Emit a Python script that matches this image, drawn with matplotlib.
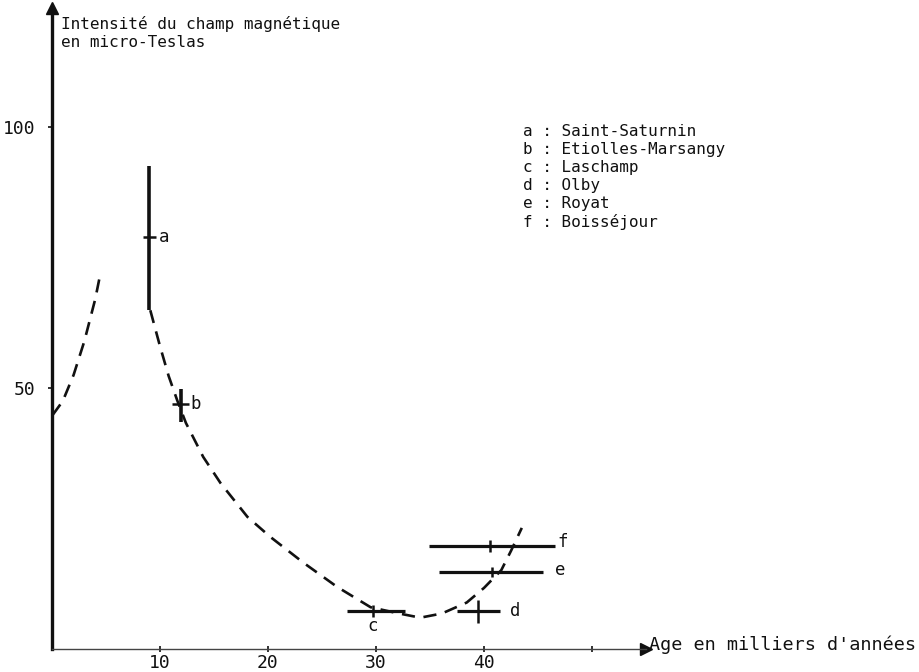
import numpy as np
import matplotlib
matplotlib.use('Agg')
from matplotlib import pyplot as plt

plt.rcParams['font.family'] = ['DejaVu Sans Mono', 'DejaVu Sans']

ink = '#111111'

# Sites: age (ka), intensity (micro-Tesla) and error bars
site_labels = ['a', 'b', 'c', 'd', 'e', 'f']
site_names = ['Saint-Saturnin', 'Etiolles-Marsangy', 'Laschamp', 'Olby', 'Royat', 'Boisséjour']
site_age = [9.0, 11.9, 29.7, 39.4, 40.7, 40.6]
site_int = [78.9, 46.9, 7.3, 7.3, 14.75, 19.7]
age_err_lo = [0.6, 0.8, 2.4, 1.9, 4.9, 5.7]
age_err_hi = [0.6, 0.8, 3.0, 2.1, 4.8, 6.0]
int_err_lo = [14.0, 3.4, 1.1, 2.3, 1.0, 1.2]
int_err_hi = [13.6, 2.9, 1.1, 2.1, 1.0, 1.2]

# dashed trend curves
curve_age = [9.1, 10.0, 10.8, 11.6, 12.4, 14.0, 15.6, 18.1, 20.2, 23.3, 26.4, 29.5,
             31.9, 34.1, 36.1, 38.4, 40.0, 41.6, 42.5, 43.5]
curve_int = [64.9, 58.0, 52.3, 47.6, 43.3, 36.8, 31.8, 25.3, 21.5, 16.5, 11.9, 8.0,
             6.9, 6.0, 6.8, 8.9, 11.7, 15.1, 18.8, 23.2]
left_age = [0.05, 1.0, 2.0, 3.0, 4.0, 4.4]
left_int = [44.8, 47.5, 52.5, 59.0, 67.0, 71.1]

xticks = [10, 20, 30, 40, 50]
xticklabels = ['10', '20', '30', '40', '']
yticks = [50, 100]

W, H = 919, 672
fig = plt.figure(figsize=(W / 100, H / 100), dpi=100)
xmax, ymax = 55.0, 122.8
ax = fig.add_axes([52 / W, 23 / H, xmax * 10.8 / W, ymax * 5.22 / H])
ax.set_xlim(0, xmax)
ax.set_ylim(0, ymax)

for s in ['top', 'right']:
    ax.spines[s].set_visible(False)
ax.spines['left'].set_linewidth(2.4)
ax.spines['left'].set_color(ink)
ax.spines['bottom'].set_linewidth(1.0)
ax.spines['bottom'].set_color('#444444')

ax.set_xticks(xticks)
ax.set_xticklabels(xticklabels)
ax.set_yticks(yticks)
ax.tick_params(axis='x', direction='inout', length=5, width=1.2, colors=ink,
               labelsize=13, pad=1)
ax.tick_params(axis='y', direction='out', length=3, width=1.2, colors=ink,
               labelsize=13, pad=9)

# arrow heads
ax.plot([xmax], [0], marker='>', markersize=9, color=ink, clip_on=False)
ax.plot([0], [ymax], marker='^', markersize=8, color=ink, clip_on=False)

# dashed curves
ax.plot(curve_age, curve_int, color=ink, lw=1.9, dashes=(5, 3.3))
ax.plot(left_age, left_int, color=ink, lw=1.9, dashes=(5, 3.3))

# error crosses
for i in range(len(site_labels)):
    thick = 2.6 if i < 2 else 1.8
    ax.plot([site_age[i], site_age[i]],
            [site_int[i] - int_err_lo[i], site_int[i] + int_err_hi[i]],
            color=ink, lw=thick, solid_capstyle='butt')
    ax.plot([site_age[i] - age_err_lo[i], site_age[i] + age_err_hi[i]],
            [site_int[i], site_int[i]],
            color=ink, lw=2.3 if i >= 2 else 1.8, solid_capstyle='butt')

# point letters
label_pos = [(9.9, 78.9, 'left'), (12.8, 46.9, 'left'), (29.7, 4.4, 'center'),
             (42.4, 7.3, 'left'), (46.6, 15.1, 'left'), (46.8, 20.5, 'left')]
for (lx, ly, ha), lab in zip(label_pos, site_labels):
    ax.text(lx, ly, lab, ha=ha, va='center', fontsize=12.5, color=ink)

# legend block
legend_lines = [l + ' : ' + n for l, n in zip(site_labels, site_names)]
ax.text(43.6, 100.5, '\n'.join(legend_lines), ha='left', va='top',
        fontsize=11.5, color=ink, linespacing=1.24)

ax.text(0.8, 121.2, 'Intensité du champ magnétique\nen micro-Teslas',
        ha='left', va='top', fontsize=11.5, color=ink, linespacing=1.2,
        clip_on=False)
ax.text(55.3, 0.8, "Age en milliers d'années", ha='left', va='center',
        fontsize=13.3, color=ink, clip_on=False)

plt.savefig('out.png', dpi=100)
